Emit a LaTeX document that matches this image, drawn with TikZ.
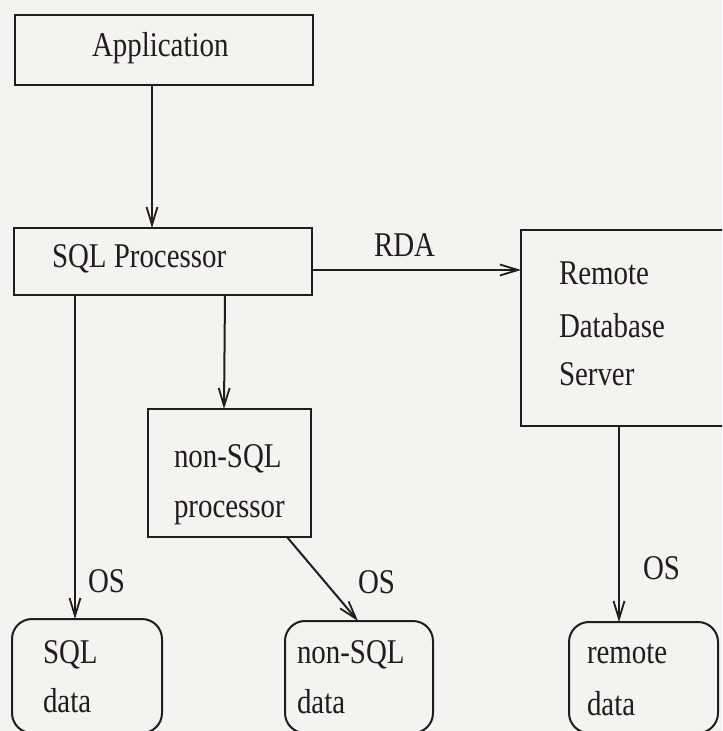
\documentclass[tikz,border=0pt]{standalone}
\usepackage{fontspec}
\setmainfont{Liberation Serif}
\usetikzlibrary{arrows.meta}
\definecolor{bg}{RGB}{243,243,239}
\definecolor{ink}{RGB}{35,28,30}
\newcommand{\tx}[1]{\scalebox{1}[1.2]{#1}}
\begin{document}
\begin{tikzpicture}[x=0.5pt,y=-0.5pt,
  box/.style={draw=ink,line width=1pt,inner sep=0pt,outer sep=0pt},
  rbox/.style={box,rounded corners=10pt},
  lbl/.style={anchor=base west,inner sep=0pt,outer sep=0pt,text=ink,font=\fontsize{14.45}{17}\selectfont},
  arr/.style={draw=ink,line width=1pt,-{Straight Barb[length=9pt,width=5.5pt,line width=0.9pt]}}]
\useasboundingbox[fill=bg] (0,0) rectangle (722,731);
\clip (0,0) rectangle (722,731);
% boxes
\node[box,minimum width=149pt,minimum height=35pt] (app) at (164,50) {};
\node[box,minimum width=149pt,minimum height=33.5pt] (sqlp) at (163,261.5) {};
\node[box,minimum width=109.5pt,minimum height=98pt] (rds) at (630.5,328) {};
\node[box,minimum width=81.5pt,minimum height=64pt] (nsp) at (229.5,473) {};
\node[rbox,minimum width=75pt,minimum height=57pt] (sqld) at (87,676) {};
\node[rbox,minimum width=74pt,minimum height=56pt] (nsd) at (359,677) {};
\node[rbox,minimum width=74.5pt,minimum height=55.5pt] (rd) at (643.5,677.5) {};
% texts
\node[lbl] (tapp) at (92,57) {\tx{Application}};
\node[lbl] (tsqlp) at (52,268) {\tx{SQL Processor}};
\node[lbl] (trda) at (374,257) {\tx{RDA}};
\node[lbl] (trds1) at (559,285) {\tx{Remote}};
\node[lbl] (trds2) at (559,337) {\tx{Database}};
\node[lbl] (trds3) at (559,385) {\tx{Server}};
\node[lbl] (tnsp1) at (174,467) {\tx{non-SQL}};
\node[lbl] (tnsp2) at (174,517) {\tx{processor}};
\node[lbl] (tos1) at (88,592) {\tx{OS}};
\node[lbl] (tos2) at (358,593) {\tx{OS}};
\node[lbl] (tos3) at (643,579) {\tx{OS}};
\node[lbl] (tsqld1) at (43,663) {\tx{SQL}};
\node[lbl] (tsqld2) at (43,712) {\tx{data}};
\node[lbl] (tnsd1) at (297,663) {\tx{non-SQL}};
\node[lbl] (tnsd2) at (297,713) {\tx{data}};
\node[lbl] (trd1) at (587,663) {\tx{remote}};
\node[lbl] (trd2) at (587,715) {\tx{data}};
% connectors
\draw[arr] ([xshift=-6pt]app.south) -- ([xshift=-5.5pt]sqlp.north);
\draw[arr] ([xshift=-44pt]sqlp.south) -- ([xshift=-6pt]sqld.north);
\draw[arr] ([xshift=31pt]sqlp.south) -- ([xshift=-2.75pt]nsp.north);
\draw[arr] ([yshift=-4.25pt]sqlp.east) -- ([yshift=29pt]rds.west);
\draw[arr] ([xshift=-5.75pt]rds.south) -- ([xshift=-12.25pt]rd.north);
\draw[arr] ([xshift=28.75pt]nsp.south) -- ([xshift=-0.5pt]nsd.north);
\end{tikzpicture}
\end{document}
